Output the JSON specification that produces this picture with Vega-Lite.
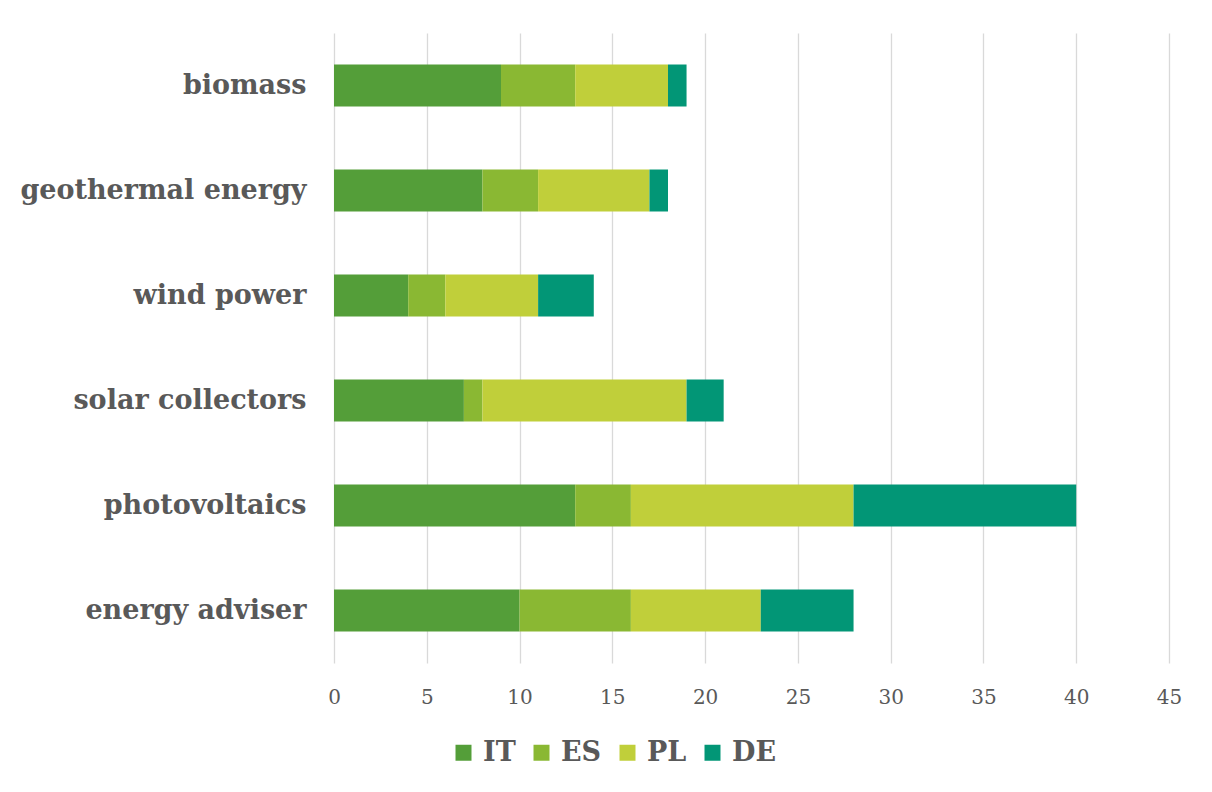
{
  "$schema": "https://vega.github.io/schema/vega-lite/v6.json",
  "width": 835,
  "height": 630,
  "autosize": {"type": "none"},
  "padding": {"left": 334, "top": 33, "right": 43, "bottom": 129},
  "background": "white",
  "data": {"values": [
    {"tech": "biomass", "country": "IT", "k": 1, "value": 9},
    {"tech": "biomass", "country": "ES", "k": 2, "value": 4},
    {"tech": "biomass", "country": "PL", "k": 3, "value": 5},
    {"tech": "biomass", "country": "DE", "k": 4, "value": 1},
    {"tech": "geothermal energy", "country": "IT", "k": 1, "value": 8},
    {"tech": "geothermal energy", "country": "ES", "k": 2, "value": 3},
    {"tech": "geothermal energy", "country": "PL", "k": 3, "value": 6},
    {"tech": "geothermal energy", "country": "DE", "k": 4, "value": 1},
    {"tech": "wind power", "country": "IT", "k": 1, "value": 4},
    {"tech": "wind power", "country": "ES", "k": 2, "value": 2},
    {"tech": "wind power", "country": "PL", "k": 3, "value": 5},
    {"tech": "wind power", "country": "DE", "k": 4, "value": 3},
    {"tech": "solar collectors", "country": "IT", "k": 1, "value": 7},
    {"tech": "solar collectors", "country": "ES", "k": 2, "value": 1},
    {"tech": "solar collectors", "country": "PL", "k": 3, "value": 11},
    {"tech": "solar collectors", "country": "DE", "k": 4, "value": 2},
    {"tech": "photovoltaics", "country": "IT", "k": 1, "value": 13},
    {"tech": "photovoltaics", "country": "ES", "k": 2, "value": 3},
    {"tech": "photovoltaics", "country": "PL", "k": 3, "value": 12},
    {"tech": "photovoltaics", "country": "DE", "k": 4, "value": 12},
    {"tech": "energy adviser", "country": "IT", "k": 1, "value": 10},
    {"tech": "energy adviser", "country": "ES", "k": 2, "value": 6},
    {"tech": "energy adviser", "country": "PL", "k": 3, "value": 7},
    {"tech": "energy adviser", "country": "DE", "k": 4, "value": 5}
  ]},
  "mark": {"type": "bar"},
  "encoding": {
    "y": {
      "field": "tech", "type": "nominal",
      "sort": ["biomass", "geothermal energy", "wind power", "solar collectors", "photovoltaics", "energy adviser"],
      "scale": {"paddingInner": 0.6, "paddingOuter": 0.3},
      "axis": {"title": null, "ticks": false, "domain": false, "grid": false,
        "labelFont": "DejaVu Serif", "labelFontWeight": "bold", "labelFontSize": 27,
        "labelColor": "#595959", "labelPadding": 28, "labelLimit": 400}
    },
    "x": {
      "field": "value", "type": "quantitative", "stack": "zero",
      "scale": {"domain": [0, 45]},
      "axis": {"title": null, "values": [0,5,10,15,20,25,30,35,40,45], "ticks": false, "domain": false,
        "grid": true, "gridColor": "#D9D9D9", "gridWidth": 1.3, "labelFlush": false,
        "labelFont": "DejaVu Serif", "labelFontSize": 20, "labelColor": "#595959", "labelPadding": 24}
    },
    "order": {"field": "k", "type": "quantitative"},
    "color": {
      "field": "country", "type": "nominal",
      "sort": ["IT", "ES", "PL", "DE"],
      "scale": {"domain": ["IT", "ES", "PL", "DE"], "range": ["#549E39", "#8AB833", "#C0CF3A", "#029676"]},
      "legend": {
        "title": null, "orient": "none", "direction": "horizontal",
        "legendX": 116, "legendY": 706,
        "symbolType": "square", "symbolSize": 256, "symbolStrokeWidth": 0,
        "labelFont": "DejaVu Serif", "labelFontWeight": "bold", "labelFontSize": 27,
        "labelColor": "#595959", "labelOffset": 6, "columnPadding": 12
      }
    }
  },
  "config": {"view": {"stroke": null}}
}
